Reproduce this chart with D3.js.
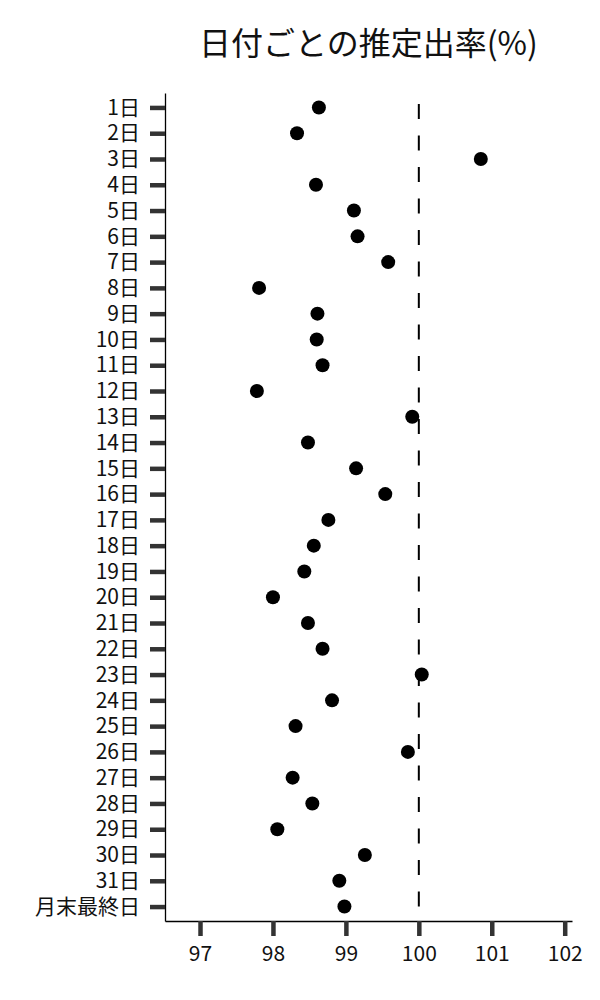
<!DOCTYPE html>
<html>
<head>
<meta charset="utf-8">
<script src="https://cdn.jsdelivr.net/npm/d3@7"></script>
<style>
  body { margin: 0; background: #fff; }
  text { font-family: "Noto Sans CJK JP", "Noto Sans", sans-serif; }
</style>
</head>
<body>
<div id="chart"></div>
<script>
// days of the month, top to bottom
let days = [
	"1日", "2日", "3日", "4日", "5日", "6日", "7日", "8日", "9日", "10日",
	"11日", "12日", "13日", "14日", "15日", "16日", "17日", "18日", "19日", "20日",
	"21日", "22日", "23日", "24日", "25日", "26日", "27日", "28日", "29日", "30日",
	"31日", "月末最終日"
];
// estimated rate (%) per day
let rates = [
	98.63, 98.33, 100.85, 98.59, 99.11, 99.16, 99.58, 97.81, 98.61, 98.60,
	98.68, 97.78, 99.91, 98.48, 99.14, 99.54, 98.76, 98.56, 98.43, 98.00,
	98.48, 98.68, 100.04, 98.81, 98.31, 99.85, 98.27, 98.54, 98.06, 99.26,
	98.91, 98.98
];
let xTicks = [97, 98, 99, 100, 101, 102];
let refValue = 100;
let title = "日付ごとの推定出率(%)";

let data = days.map((d, i) => ({day: d, rate: rates[i]}));

// set the dimensions and margins of the graph
var margin = {top: 93, right: 28, bottom: 79, left: 165},
	width = 600 - margin.left - margin.right,
	height = 1000 - margin.top - margin.bottom;

var root = d3.select("#chart")
	.append("svg")
	.attr("width", 600)
	.attr("height", 1000);

var svg = root.append("g")
	.attr("transform", "translate(" + margin.left + "," + margin.top + ")");

var x = d3.scaleLinear()
	.domain([96.52, 102.1])
	.range([0, width]);

var y = d3.scalePoint()
	.domain(days)
	.range([0, height])
	.padding(0.56);

// X axis
var xAxis = svg.append("g")
	.attr("transform", "translate(0," + height + ")")
	.call(d3.axisBottom(x).tickValues(xTicks).tickFormat(d3.format("d"))
		.tickSize(15).tickSizeOuter(0).tickPadding(10));

// Y axis
var yAxis = svg.append("g")
	.call(d3.axisLeft(y).tickSize(15).tickSizeOuter(0).tickPadding(10));

[xAxis, yAxis].forEach(function(g) {
	g.select(".domain").attr("stroke", "#000").attr("stroke-width", 1.3);
	g.selectAll(".tick line").attr("stroke", "#333").attr("stroke-width", 4.5);
	g.selectAll(".tick text").attr("fill", "#111").style("font-size", "21px");
});

// reference line at 100%
svg.append("line")
	.attr("x1", x(refValue))
	.attr("x2", x(refValue))
	.attr("y1", 11)
	.attr("y2", height)
	.attr("stroke", "#000")
	.attr("stroke-width", 2)
	.attr("stroke-dasharray", "15,16.5");

// dots
svg.selectAll("circle")
	.data(data)
	.enter()
	.append("circle")
	.attr("cx", function(d) { return x(d.rate); })
	.attr("cy", function(d) { return y(d.day); })
	.attr("r", 7)
	.attr("fill", "#000");

// title
root.append("text")
	.attr("x", margin.left + width / 2)
	.attr("y", 55)
	.attr("text-anchor", "middle")
	.style("font-size", "32px")
	.attr("fill", "#111")
	.text(title);
</script>
</body>
</html>
